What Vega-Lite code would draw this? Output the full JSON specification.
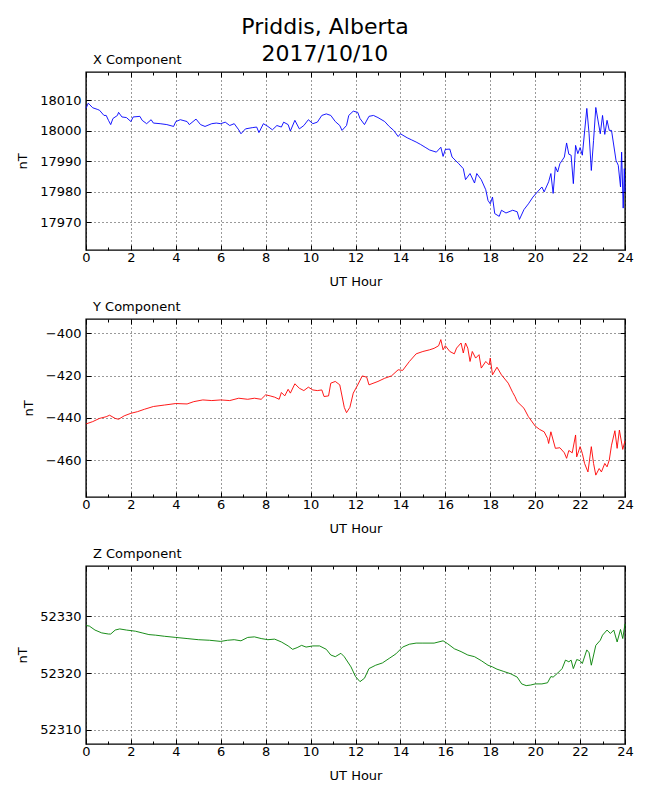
{
  "$schema": "https://vega.github.io/schema/vega-lite/v6.json",
  "background": "white",
  "padding": {"left": 15, "top": 15, "right": 25, "bottom": 5},
  "autosize": {"type": "pad"},
  "config": {
    "font": "DejaVu Sans",
    "view": {"stroke": "black", "strokeWidth": 1.4},
    "axis": {
      "labelFont": "DejaVu Sans",
      "labelFontSize": 13,
      "labelColor": "black",
      "titleFont": "DejaVu Sans",
      "titleFontSize": 13,
      "titleFontWeight": "normal",
      "titleColor": "black",
      "domain": false,
      "tickColor": "black",
      "tickSize": -5,
      "gridColor": "black",
      "gridDash": [1, 3],
      "gridWidth": 0.8,
      "gridOpacity": 1,
      "labelFlush": false,
      "labelOverlap": false
    },
    "title": {"font": "DejaVu Sans", "fontWeight": "normal", "color": "black"}
  },
  "title": {
    "text": ["Priddis, Alberta", "2017/10/10"],
    "fontSize": 22,
    "lineHeight": 27,
    "anchor": "middle",
    "frame": "bounds",
    "offset": -13
  },
  "spacing": 10,
  "datasets": {
    "xcomp": [
      {"h":0,"v":18007.3},{"h":0.1,"v":18009},{"h":0.3,"v":18007.5},{"h":0.5,"v":18007},{"h":0.6,"v":18006.7},{"h":0.8,"v":18005},{"h":0.9,"v":18005},{"h":1.0,"v":18003.4},{"h":1.1,"v":18002},{"h":1.2,"v":18004},{"h":1.4,"v":18005},{"h":1.45,"v":18006},{"h":1.6,"v":18004.5},{"h":1.8,"v":18004.3},{"h":2.0,"v":18003},{"h":2.1,"v":18004.5},{"h":2.4,"v":18004.7},{"h":2.5,"v":18003.4},{"h":2.7,"v":18002.3},{"h":2.9,"v":18003.6},{"h":3.0,"v":18002.5},{"h":3.3,"v":18002.3},{"h":3.6,"v":18002},{"h":3.9,"v":18001.4},{"h":4.0,"v":18003},{"h":4.2,"v":18003.6},{"h":4.5,"v":18003},{"h":4.6,"v":18002},{"h":4.9,"v":18003.8},{"h":5.1,"v":18002},{"h":5.3,"v":18001.4},{"h":5.6,"v":18002.3},{"h":5.8,"v":18002.5},{"h":6.0,"v":18002.3},{"h":6.2,"v":18002.8},{"h":6.4,"v":18001.7},{"h":6.6,"v":18002.3},{"h":6.8,"v":18000.3},{"h":6.9,"v":17999},{"h":7.1,"v":18000.6},{"h":7.4,"v":18001},{"h":7.6,"v":18001.2},{"h":7.7,"v":17999.4},{"h":7.9,"v":18002.3},{"h":8.1,"v":18001.4},{"h":8.3,"v":18000.3},{"h":8.5,"v":18001.7},{"h":8.7,"v":18001.2},{"h":8.8,"v":18002.8},{"h":9.0,"v":18002},{"h":9.1,"v":17999.9},{"h":9.3,"v":18003.4},{"h":9.5,"v":18000.6},{"h":9.7,"v":18001.7},{"h":9.9,"v":18003.6},{"h":10.1,"v":18002.3},{"h":10.3,"v":18002.8},{"h":10.5,"v":18005},{"h":10.7,"v":18005.5},{"h":10.9,"v":18005},{"h":11.1,"v":18003},{"h":11.3,"v":18001.7},{"h":11.4,"v":18000.1},{"h":11.6,"v":18001.7},{"h":11.7,"v":18005},{"h":11.9,"v":18006.4},{"h":12.1,"v":18006},{"h":12.2,"v":18004},{"h":12.4,"v":18002},{"h":12.6,"v":18004.7},{"h":12.8,"v":18005},{"h":13.0,"v":18004.3},{"h":13.3,"v":18003},{"h":13.5,"v":18001.4},{"h":13.7,"v":18000.1},{"h":13.9,"v":17998.1},{"h":14.0,"v":17999},{"h":14.3,"v":17997.7},{"h":14.5,"v":17997},{"h":14.7,"v":17996.3},{"h":14.9,"v":17995.5},{"h":15.1,"v":17994.6},{"h":15.3,"v":17993.7},{"h":15.6,"v":17993},{"h":15.8,"v":17994.6},{"h":15.9,"v":17991.6},{"h":16.0,"v":17993.9},{"h":16.2,"v":17994},{"h":16.3,"v":17991.4},{"h":16.6,"v":17989.2},{"h":16.8,"v":17987.6},{"h":16.9,"v":17984},{"h":17.1,"v":17986},{"h":17.3,"v":17982.9},{"h":17.4,"v":17986},{"h":17.6,"v":17984},{"h":17.8,"v":17980.7},{"h":17.9,"v":17977.2},{"h":18.0,"v":17976.1},{"h":18.1,"v":17978.3},{"h":18.2,"v":17972.9},{"h":18.4,"v":17972},{"h":18.5,"v":17974},{"h":18.7,"v":17973.1},{"h":19.0,"v":17974},{"h":19.2,"v":17973.5},{"h":19.3,"v":17971},{"h":19.5,"v":17974.2},{"h":19.7,"v":17976.1},{"h":19.9,"v":17978.3},{"h":20.1,"v":17980},{"h":20.3,"v":17981.6},{"h":20.4,"v":17980},{"h":20.6,"v":17983.3},{"h":20.7,"v":17986},{"h":20.8,"v":17979.5},{"h":20.9,"v":17988.2},{"h":21.0,"v":17986.5},{"h":21.1,"v":17989.2},{"h":21.3,"v":17991.4},{"h":21.4,"v":17996},{"h":21.5,"v":17992.3},{"h":21.6,"v":17992},{"h":21.7,"v":17982.7},{"h":21.8,"v":17995.2},{"h":21.9,"v":17992.5},{"h":22.0,"v":17994.5},{"h":22.1,"v":17992},{"h":22.3,"v":18007.3},{"h":22.4,"v":17999},{"h":22.5,"v":17987},{"h":22.6,"v":17996.8},{"h":22.7,"v":18007.6},{"h":22.9,"v":17999},{"h":23.0,"v":18005},{"h":23.1,"v":17998.8},{"h":23.2,"v":18003.4},{"h":23.3,"v":18000.1},{"h":23.4,"v":18000.1},{"h":23.6,"v":17990.3},{"h":23.7,"v":17988.7},{"h":23.8,"v":17981.6},{"h":23.85,"v":17993},{"h":23.92,"v":17974.7},{"h":23.97,"v":17987.6},{"h":24.0,"v":17980}
    ],
    "ycomp": [
      {"h":0,"v":-442.8},{"h":0.3,"v":-441.7},{"h":0.6,"v":-440.2},{"h":0.9,"v":-439.4},{"h":1.05,"v":-438.7},{"h":1.3,"v":-440.2},{"h":1.45,"v":-440.6},{"h":1.7,"v":-439},{"h":2.0,"v":-437.8},{"h":2.3,"v":-437},{"h":2.6,"v":-435.9},{"h":3.0,"v":-434.6},{"h":3.5,"v":-433.9},{"h":4.0,"v":-433.2},{"h":4.5,"v":-433.4},{"h":4.8,"v":-432.3},{"h":5.2,"v":-431.5},{"h":5.6,"v":-431.8},{"h":6.0,"v":-431.5},{"h":6.4,"v":-431.8},{"h":6.8,"v":-430.7},{"h":7.2,"v":-431.2},{"h":7.5,"v":-430.7},{"h":7.8,"v":-431.2},{"h":8.0,"v":-429.1},{"h":8.2,"v":-429.6},{"h":8.4,"v":-430.2},{"h":8.6,"v":-431.2},{"h":8.7,"v":-428},{"h":8.85,"v":-429.6},{"h":9.0,"v":-426.5},{"h":9.1,"v":-428.3},{"h":9.3,"v":-423.9},{"h":9.5,"v":-426},{"h":9.7,"v":-427.1},{"h":9.9,"v":-425.5},{"h":10.1,"v":-426.8},{"h":10.3,"v":-427.1},{"h":10.5,"v":-426.8},{"h":10.6,"v":-429.9},{"h":10.8,"v":-429.6},{"h":10.9,"v":-423.6},{"h":11.1,"v":-422.8},{"h":11.3,"v":-424.4},{"h":11.5,"v":-435},{"h":11.6,"v":-437.5},{"h":11.75,"v":-435},{"h":11.9,"v":-428.3},{"h":12.1,"v":-424.4},{"h":12.3,"v":-420.2},{"h":12.5,"v":-420.8},{"h":12.6,"v":-424.4},{"h":13.0,"v":-422.8},{"h":13.3,"v":-421.3},{"h":13.6,"v":-420.2},{"h":13.9,"v":-417.3},{"h":14.1,"v":-417.6},{"h":14.4,"v":-413.4},{"h":14.7,"v":-409.8},{"h":15.0,"v":-408.7},{"h":15.3,"v":-407.9},{"h":15.5,"v":-407.2},{"h":15.7,"v":-406},{"h":15.8,"v":-403.1},{"h":15.9,"v":-407.9},{"h":16.0,"v":-406},{"h":16.2,"v":-408.7},{"h":16.4,"v":-409.8},{"h":16.5,"v":-407.1},{"h":16.7,"v":-404.7},{"h":16.8,"v":-409.4},{"h":16.9,"v":-404.7},{"h":17.0,"v":-407.1},{"h":17.1,"v":-413.4},{"h":17.2,"v":-408.7},{"h":17.35,"v":-411.8},{"h":17.5,"v":-410.2},{"h":17.6,"v":-416.5},{"h":17.8,"v":-413.4},{"h":17.95,"v":-415},{"h":18.0,"v":-411.8},{"h":18.1,"v":-419.7},{"h":18.3,"v":-416.1},{"h":18.5,"v":-419.7},{"h":18.8,"v":-423.6},{"h":19.0,"v":-428},{"h":19.1,"v":-429.9},{"h":19.2,"v":-432.3},{"h":19.5,"v":-435.4},{"h":19.7,"v":-439.4},{"h":20.0,"v":-443.8},{"h":20.2,"v":-445.4},{"h":20.4,"v":-446.5},{"h":20.55,"v":-449.6},{"h":20.6,"v":-452},{"h":20.7,"v":-446.5},{"h":20.9,"v":-454.3},{"h":21.1,"v":-454},{"h":21.3,"v":-456.4},{"h":21.4,"v":-459},{"h":21.5,"v":-455.3},{"h":21.65,"v":-456.4},{"h":21.8,"v":-448},{"h":21.85,"v":-458.3},{"h":22.0,"v":-453.5},{"h":22.1,"v":-456.7},{"h":22.2,"v":-461.4},{"h":22.35,"v":-465.4},{"h":22.5,"v":-453.5},{"h":22.6,"v":-461.4},{"h":22.7,"v":-466.9},{"h":22.85,"v":-463.8},{"h":22.95,"v":-465.4},{"h":23.1,"v":-461.4},{"h":23.2,"v":-463},{"h":23.3,"v":-459.8},{"h":23.4,"v":-452.8},{"h":23.55,"v":-446},{"h":23.65,"v":-454.3},{"h":23.75,"v":-445.7},{"h":23.9,"v":-454.8},{"h":24.0,"v":-450.7}
    ],
    "zcomp": [
      {"h":0,"v":52328.4},{"h":0.15,"v":52328.3},{"h":0.4,"v":52327.6},{"h":0.7,"v":52327.1},{"h":1.0,"v":52326.9},{"h":1.1,"v":52326.9},{"h":1.3,"v":52327.6},{"h":1.5,"v":52327.8},{"h":1.8,"v":52327.6},{"h":2.2,"v":52327.4},{"h":2.5,"v":52327.1},{"h":2.8,"v":52326.8},{"h":3.1,"v":52326.7},{"h":3.5,"v":52326.5},{"h":4.0,"v":52326.3},{"h":4.5,"v":52326.1},{"h":5.0,"v":52325.9},{"h":5.5,"v":52325.8},{"h":6.0,"v":52325.6},{"h":6.3,"v":52325.8},{"h":6.6,"v":52325.9},{"h":6.9,"v":52325.7},{"h":7.2,"v":52326.3},{"h":7.5,"v":52326.4},{"h":7.8,"v":52326.1},{"h":8.1,"v":52325.9},{"h":8.4,"v":52326},{"h":8.7,"v":52325.5},{"h":9.0,"v":52324.8},{"h":9.2,"v":52324.2},{"h":9.4,"v":52324.5},{"h":9.6,"v":52324.9},{"h":9.8,"v":52324.6},{"h":10.1,"v":52324.8},{"h":10.4,"v":52324.8},{"h":10.7,"v":52324.2},{"h":10.9,"v":52323.2},{"h":11.1,"v":52322.9},{"h":11.35,"v":52323.5},{"h":11.5,"v":52322.9},{"h":11.8,"v":52321.1},{"h":12.0,"v":52319.4},{"h":12.2,"v":52318.5},{"h":12.4,"v":52319.1},{"h":12.6,"v":52320.8},{"h":12.9,"v":52321.4},{"h":13.2,"v":52321.8},{"h":13.5,"v":52322.6},{"h":13.8,"v":52323.4},{"h":14.1,"v":52324.6},{"h":14.4,"v":52325.1},{"h":14.7,"v":52325.3},{"h":15.0,"v":52325.3},{"h":15.5,"v":52325.3},{"h":15.9,"v":52325.7},{"h":16.1,"v":52325.2},{"h":16.4,"v":52324.3},{"h":16.7,"v":52323.8},{"h":17.0,"v":52323.2},{"h":17.3,"v":52322.9},{"h":17.6,"v":52322.2},{"h":17.9,"v":52321.4},{"h":18.1,"v":52321.1},{"h":18.3,"v":52320.7},{"h":18.6,"v":52320.3},{"h":18.9,"v":52319.9},{"h":19.2,"v":52319.3},{"h":19.4,"v":52318.1},{"h":19.6,"v":52317.8},{"h":19.8,"v":52317.9},{"h":20.0,"v":52318.1},{"h":20.3,"v":52318.1},{"h":20.55,"v":52318.3},{"h":20.7,"v":52319.4},{"h":20.8,"v":52319.3},{"h":21.0,"v":52320},{"h":21.2,"v":52320.8},{"h":21.35,"v":52322.3},{"h":21.5,"v":52322},{"h":21.6,"v":52322.3},{"h":21.7,"v":52320.8},{"h":21.85,"v":52322.4},{"h":22.0,"v":52322.2},{"h":22.1,"v":52321.7},{"h":22.3,"v":52324.1},{"h":22.4,"v":52323.6},{"h":22.5,"v":52321.4},{"h":22.7,"v":52324.9},{"h":22.9,"v":52325.8},{"h":23.0,"v":52326.7},{"h":23.2,"v":52327.6},{"h":23.35,"v":52327},{"h":23.5,"v":52327.6},{"h":23.65,"v":52325.5},{"h":23.8,"v":52327.7},{"h":23.9,"v":52326.1},{"h":24.0,"v":52328.7}
    ]
  },
  "vconcat": [
    {
      "width": 539,
      "height": 178,
      "title": {"text": "X Component", "anchor": "start", "frame": "group", "fontSize": 13, "dx": 7, "offset": 5},
      "data": {"name": "xcomp"},
      "layer": [
        {
          "mark": {"type": "line", "strokeOpacity": 0},
          "encoding": {
            "x": {"field": "h", "type": "quantitative", "scale": {"domain": [0, 24], "nice": false},
              "axis": {"orient": "bottom", "title": "UT Hour", "values": [0,1,2,3,4,5,6,7,8,9,10,11,12,13,14,15,16,17,18,19,20,21,22,23,24],
                "labelExpr": "datum.value % 2 ? '' : datum.label",
                "gridOpacity": {"condition": {"test": "datum.value % 2 === 1", "value": 0}, "value": 1},
                "tickSize": {"condition": {"test": "datum.value % 2 === 1", "value": -3}, "value": -5},
                "labelPadding": 6, "titlePadding": 9}},
            "y": {"field": "v", "type": "quantitative", "scale": {"domain": [17961, 18019.2], "nice": false, "zero": false},
              "axis": {"orient": "left", "title": "nT", "values": [17970, 17980, 17990, 18000, 18010], "format": "d", "labelPadding": 10, "titlePadding": 10}}
          }
        },
        {
          "mark": {"type": "line", "color": "#0000ff", "strokeWidth": 0.9},
          "encoding": {
            "x": {"field": "h", "type": "quantitative",
              "axis": {"orient": "top", "title": null, "labels": false, "grid": false, "values": [0,1,2,3,4,5,6,7,8,9,10,11,12,13,14,15,16,17,18,19,20,21,22,23,24],
                "tickSize": {"condition": {"test": "datum.value % 2 === 1", "value": -3}, "value": -5}}},
            "y": {"field": "v", "type": "quantitative",
              "axis": {"orient": "right", "title": null, "labels": false, "grid": false, "values": [17970, 17980, 17990, 18000, 18010]}}
          }
        }
      ],
      "resolve": {"axis": {"x": "independent", "y": "independent"}}
    },
    {
      "width": 539,
      "height": 178,
      "title": {"text": "Y Component", "anchor": "start", "frame": "group", "fontSize": 13, "dx": 7, "offset": 5},
      "data": {"name": "ycomp"},
      "layer": [
        {
          "mark": {"type": "line", "strokeOpacity": 0},
          "encoding": {
            "x": {"field": "h", "type": "quantitative", "scale": {"domain": [0, 24], "nice": false},
              "axis": {"orient": "bottom", "title": "UT Hour", "values": [0,1,2,3,4,5,6,7,8,9,10,11,12,13,14,15,16,17,18,19,20,21,22,23,24],
                "labelExpr": "datum.value % 2 ? '' : datum.label",
                "gridOpacity": {"condition": {"test": "datum.value % 2 === 1", "value": 0}, "value": 1},
                "tickSize": {"condition": {"test": "datum.value % 2 === 1", "value": -3}, "value": -5},
                "labelPadding": 6, "titlePadding": 9}},
            "y": {"field": "v", "type": "quantitative", "scale": {"domain": [-477.2, -393.4], "nice": false, "zero": false},
              "axis": {"orient": "left", "title": "nT", "values": [-460, -440, -420, -400], "format": "d", "labelPadding": 10, "titlePadding": 10}}
          }
        },
        {
          "mark": {"type": "line", "color": "#ff0000", "strokeWidth": 0.9},
          "encoding": {
            "x": {"field": "h", "type": "quantitative",
              "axis": {"orient": "top", "title": null, "labels": false, "grid": false, "values": [0,1,2,3,4,5,6,7,8,9,10,11,12,13,14,15,16,17,18,19,20,21,22,23,24],
                "tickSize": {"condition": {"test": "datum.value % 2 === 1", "value": -3}, "value": -5}}},
            "y": {"field": "v", "type": "quantitative",
              "axis": {"orient": "right", "title": null, "labels": false, "grid": false, "values": [-460, -440, -420, -400]}}
          }
        }
      ],
      "resolve": {"axis": {"x": "independent", "y": "independent"}}
    },
    {
      "width": 539,
      "height": 178,
      "title": {"text": "Z Component", "anchor": "start", "frame": "group", "fontSize": 13, "dx": 7, "offset": 5},
      "data": {"name": "zcomp"},
      "layer": [
        {
          "mark": {"type": "line", "strokeOpacity": 0},
          "encoding": {
            "x": {"field": "h", "type": "quantitative", "scale": {"domain": [0, 24], "nice": false},
              "axis": {"orient": "bottom", "title": "UT Hour", "values": [0,1,2,3,4,5,6,7,8,9,10,11,12,13,14,15,16,17,18,19,20,21,22,23,24],
                "labelExpr": "datum.value % 2 ? '' : datum.label",
                "gridOpacity": {"condition": {"test": "datum.value % 2 === 1", "value": 0}, "value": 1},
                "tickSize": {"condition": {"test": "datum.value % 2 === 1", "value": -3}, "value": -5},
                "labelPadding": 6, "titlePadding": 9}},
            "y": {"field": "v", "type": "quantitative", "scale": {"domain": [52307.5, 52338.9], "nice": false, "zero": false},
              "axis": {"orient": "left", "title": "nT", "values": [52310, 52320, 52330], "format": "d", "labelPadding": 10, "titlePadding": 10}}
          }
        },
        {
          "mark": {"type": "line", "color": "#008000", "strokeWidth": 0.9},
          "encoding": {
            "x": {"field": "h", "type": "quantitative",
              "axis": {"orient": "top", "title": null, "labels": false, "grid": false, "values": [0,1,2,3,4,5,6,7,8,9,10,11,12,13,14,15,16,17,18,19,20,21,22,23,24],
                "tickSize": {"condition": {"test": "datum.value % 2 === 1", "value": -3}, "value": -5}}},
            "y": {"field": "v", "type": "quantitative",
              "axis": {"orient": "right", "title": null, "labels": false, "grid": false, "values": [52310, 52320, 52330]}}
          }
        }
      ],
      "resolve": {"axis": {"x": "independent", "y": "independent"}}
    }
  ]
}
